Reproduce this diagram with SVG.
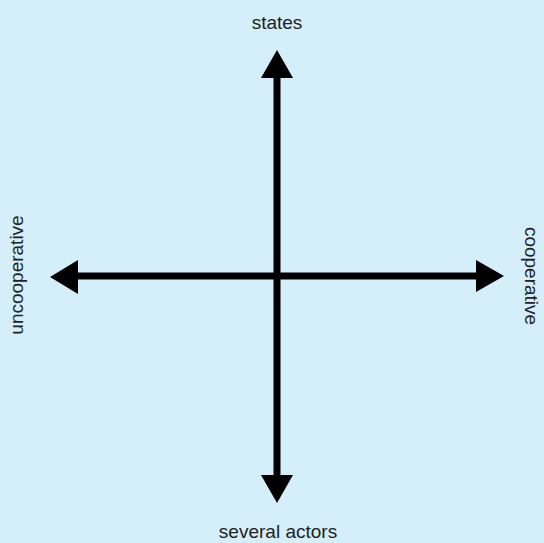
<svg xmlns="http://www.w3.org/2000/svg" width="544" height="543" viewBox="0 0 544 543">
<style>
.lbl{font-family:"Liberation Sans",Arial,sans-serif;font-size:19px;fill:#222;text-anchor:middle}
.ax{stroke:#000;stroke-width:7;fill:none}
.hd{fill:#000}
</style>
<rect width="544" height="543" fill="#d4eefa"/>
<g id="connectors">
<line class="ax" x1="277" y1="76" x2="277" y2="477"/>
<line class="ax" x1="76" y1="276" x2="478" y2="276"/>
<polygon class="hd" points="277,50 261,78 293,78"/>
<polygon class="hd" points="277,503 261,475 293,475"/>
<polygon class="hd" points="50,277 78,260 78,294"/>
<polygon class="hd" points="504,276 476,260 476,292"/>
</g>
<g id="states"><text class="lbl" x="277" y="29">states</text></g>
<g id="several-actors"><text class="lbl" x="278" y="538">several actors</text></g>
<g id="uncooperative"><text class="lbl" transform="translate(23,275) rotate(-90)">uncooperative</text></g>
<g id="cooperative"><text class="lbl" transform="translate(525,276) rotate(90)">cooperative</text></g>
</svg>
